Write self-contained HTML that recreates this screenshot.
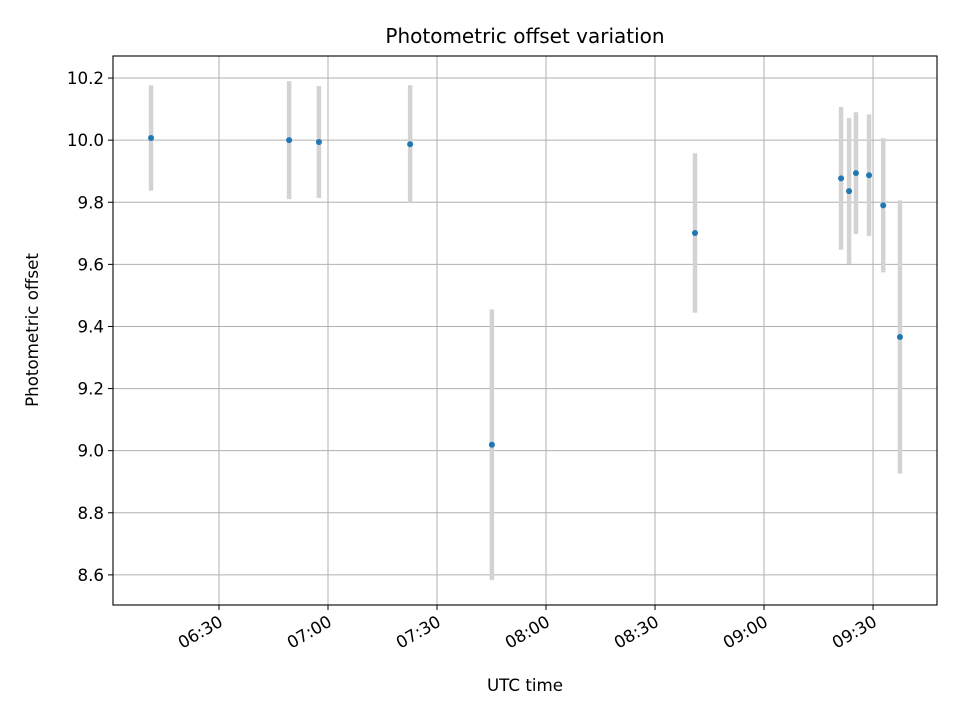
<!DOCTYPE html>
<html><head><meta charset="utf-8"><style>
body{margin:0;background:#fff}
svg text{font-family:"DejaVu Sans","Liberation Sans",sans-serif}
</style></head><body>
<svg id="chart" width="960" height="720" xmlns="http://www.w3.org/2000/svg">
<rect width="960" height="720" fill="#fff"/>
<g id="grid"></g>
<g id="marks"></g>
<rect x="113" y="56" width="824" height="549" fill="none" stroke="#000" stroke-width="1.1"/>
<g id="axes"></g>
<text x="525" y="43" text-anchor="middle" style="font-size:20px">Photometric offset variation</text>
<text x="525" y="691" text-anchor="middle" style="font-size:16.7px">UTC time</text>
<text x="38" y="330" text-anchor="middle" style="font-size:16.7px" transform="rotate(-90 38 330)">Photometric offset</text>
</svg>
<script>
// minutes since 06:00 UTC
const times = [11.3, 49.3, 57.5, 82.6, 105.1, 161.0, 201.2, 203.4, 205.3, 208.9, 212.8, 217.4];
const offsets = [10.007, 10.0, 9.994, 9.987, 9.019, 9.701, 9.877, 9.836, 9.894, 9.887, 9.79, 9.366];
const errors = [0.17, 0.19, 0.18, 0.19, 0.436, 0.257, 0.23, 0.235, 0.196, 0.196, 0.216, 0.44];
const yTicks = [8.6, 8.8, 9.0, 9.2, 9.4, 9.6, 9.8, 10.0, 10.2];
const xTicks = [30, 60, 90, 120, 150, 180, 210];
const xTickLabels = ["06:30", "07:00", "07:30", "08:00", "08:30", "09:00", "09:30"];

const L=113,R=937,T=56,B=605;
const xMin=0.83,xMax=227.6,yMin=8.503,yMax=10.271;
const xs=v=>L+(v-xMin)/(xMax-xMin)*(R-L);
const ys=v=>B-(v-yMin)/(yMax-yMin)*(B-T);
const NS="http://www.w3.org/2000/svg";
function mk(tag,attrs,parent){const e=document.createElementNS(NS,tag);for(const k in attrs)e.setAttribute(k,attrs[k]);parent.appendChild(e);return e;}
const grid=document.getElementById('grid'),axes=document.getElementById('axes'),marks=document.getElementById('marks');
yTicks.forEach(t=>{const y=ys(t);
 const g=mk('line',{x1:L,x2:R,y1:y,y2:y,stroke:'#b0b0b0','stroke-width':1},grid);
 
 const tk=mk('line',{x1:L-5,x2:L,y1:y,y2:y,stroke:'#000'},axes);
 
 const tx=mk('text',{x:L-9,y:y+6,'text-anchor':'end',style:'font-size:16.7px'},axes);tx.textContent=t.toFixed(1);
 
});
xTicks.forEach((t,i)=>{const x=xs(t);
 const g=mk('line',{x1:x,x2:x,y1:T,y2:B,stroke:'#b0b0b0','stroke-width':1},grid);
 
 const tk=mk('line',{x1:x,x2:x,y1:B,y2:B+5,stroke:'#000'},axes);
 
 const ax=x+5, ay=B+20;
 const tx=mk('text',{x:ax,y:ay,'text-anchor':'end',style:'font-size:16.7px',transform:`rotate(-30 ${ax} ${ay})`},axes);tx.textContent=xTickLabels[i];
 
});
times.forEach((t,i)=>{const x=xs(t);
 const e=mk('line',{x1:x,x2:x,y1:ys(offsets[i]+errors[i]),y2:ys(offsets[i]-errors[i]),stroke:'#d3d3d3','stroke-width':4.5},marks);
 
});
times.forEach((t,i)=>{
 const c=mk('circle',{cx:xs(t),cy:ys(offsets[i]),r:3,fill:'#1f77b4'},marks);
 
});
</script>
</body></html>
